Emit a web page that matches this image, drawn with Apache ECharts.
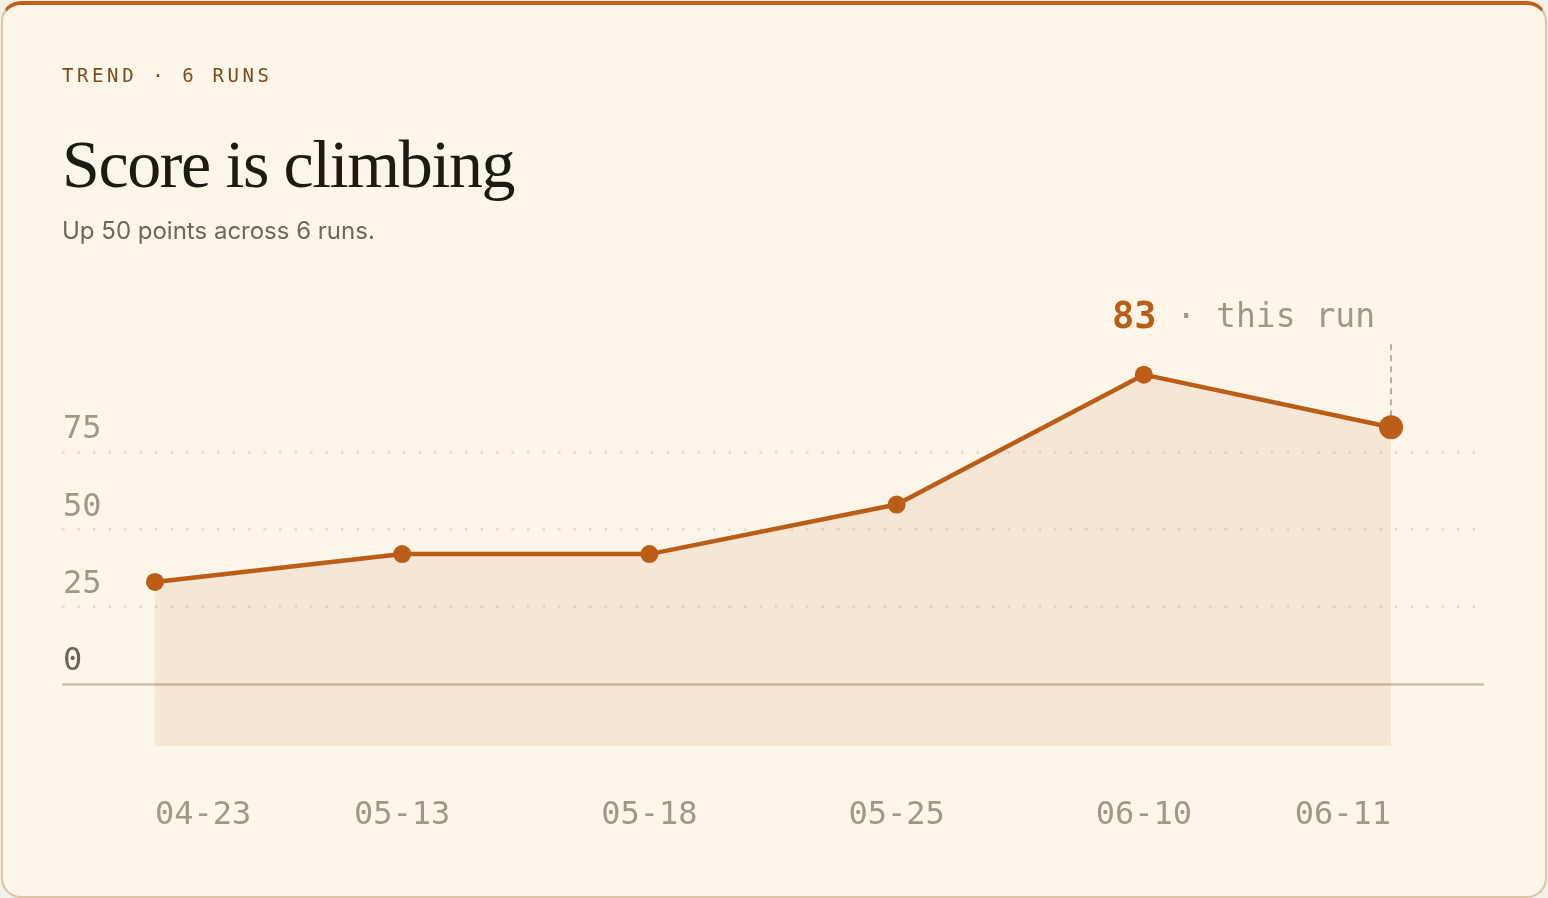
<!DOCTYPE html>
<html>
<head>
<meta charset="utf-8">
<script src="https://cdn.jsdelivr.net/npm/echarts@6/dist/echarts.min.js"></script>
<style>
  html, body { margin: 0; padding: 0; background: #f4f0e7; }
  .card {
    position: absolute; left: 1px; top: 1px; width: 1542px; height: 891px;
    background: #fcf5e9; border: 2px solid #dcc5a6; border-top: 4px solid #bf5f1a;
    border-radius: 20px; overflow: hidden;
  }
  .charts { position: absolute; left: 0; top: 0; width: 1548px; height: 898px; }
  .head { position: absolute; left: 62px; top: 0; z-index: 2; }
  .kicker {
    position: absolute; top: 64px; left: 0; white-space: nowrap;
    font-family: "DejaVu Sans Mono", monospace; font-size: 19px; letter-spacing: 3.6px; color: #7b4a1f;
  }
  .title {
    position: absolute; top: 125px; left: 0; white-space: nowrap;
    font-family: "Liberation Serif", serif; font-size: 68px; letter-spacing: -1.4px; color: #1d1a14;
  }
  .sub {
    position: absolute; top: 216px; left: 0; white-space: nowrap;
    font-family: Inter, "Noto Sans", sans-serif; font-size: 24px; color: #6f665a;
  }
</style>
</head>
<body>
<div class="card"></div>
<div class="charts" id="charts"></div>
<div class="head">
  <div class="kicker">TREND · 6 RUNS</div>
  <div class="title">Score is climbing</div>
  <div class="sub">Up 50 points across 6 runs.</div>
</div>
<script>
// 趋势数据
const xLabels = ['04-23', '05-13', '05-18', '05-25', '06-10', '06-11']
const scores = [33, 42, 42, 58, 100, 83]
const yTicks = [0, 25, 50, 75]

const orange = '#bc5d17'
const mono = '"DejaVu Sans Mono", monospace'
const last = scores.length - 1

let Mycharts = echarts.init(document.getElementById('charts'))

let gridLines = yTicks.map(v => ({
    yAxis: v,
    lineStyle: v === 0
        ? { type: 'solid', color: '#cbbfa7', width: 2.5 }
        : { type: [2.5, 13], color: '#e4dac8', width: 2.5 },
    label: {
        show: true,
        formatter: String(v),
        position: 'insideStartTop',
        distance: [1, 6],
        fontFamily: mono,
        fontSize: 32,
        color: v === 0 ? '#6c6459' : '#a09786'
    }
}))

let option = {
    animation: false,
    grid: { left: 62, right: 64, top: 343.7, bottom: 152.1 },
    xAxis: {
        type: 'value',
        min: -0.376,
        max: last + 0.376,
        axisLine: { show: false },
        axisTick: { show: false },
        splitLine: { show: false },
        axisLabel: {
            customValues: xLabels.map((d, i) => i),
            formatter: (v) => xLabels[v],
            alignMinLabel: 'left',
            alignMaxLabel: 'right',
            margin: 54,
            fontFamily: mono,
            fontSize: 32,
            color: '#a09786'
        }
    },
    yAxis: {
        type: 'value',
        min: -20,
        max: 110,
        show: false,
        splitLine: { show: false }
    },
    series: [
        {
            type: 'line',
            data: scores.map((s, i) => [i, s]),
            symbol: 'circle',
            symbolSize: (val, p) => p.dataIndex === last ? 24 : 18,
            itemStyle: { color: orange },
            lineStyle: { color: orange, width: 4.5 },
            areaStyle: { color: 'rgba(187, 92, 24, 0.13)', origin: 'start' },
            z: 3,
            markLine: {
                silent: true,
                symbol: 'none',
                z: 1,
                data: gridLines.concat([[
                    { coord: [last, scores[last]], lineStyle: { type: [6, 5], color: '#a39887', width: 1.5 }, label: { show: false } },
                    { coord: [last, 110] }
                ]])
            },
            markPoint: {
                silent: true,
                symbol: 'circle',
                symbolSize: 0,
                data: [{ coord: [last, 110] }],
                label: {
                    show: true,
                    position: 'left',
                    distance: 16,
                    offset: [0, -25],
                    formatter: '{a|' + scores[last] + '}{b| · this run}',
                    rich: {
                        a: { fontFamily: mono, fontSize: 37, fontWeight: 'bold', color: orange },
                        b: { fontFamily: mono, fontSize: 33, color: '#a09786' }
                    }
                }
            }
        }
    ]
}
Mycharts.setOption(option)
</script>
</body>
</html>
